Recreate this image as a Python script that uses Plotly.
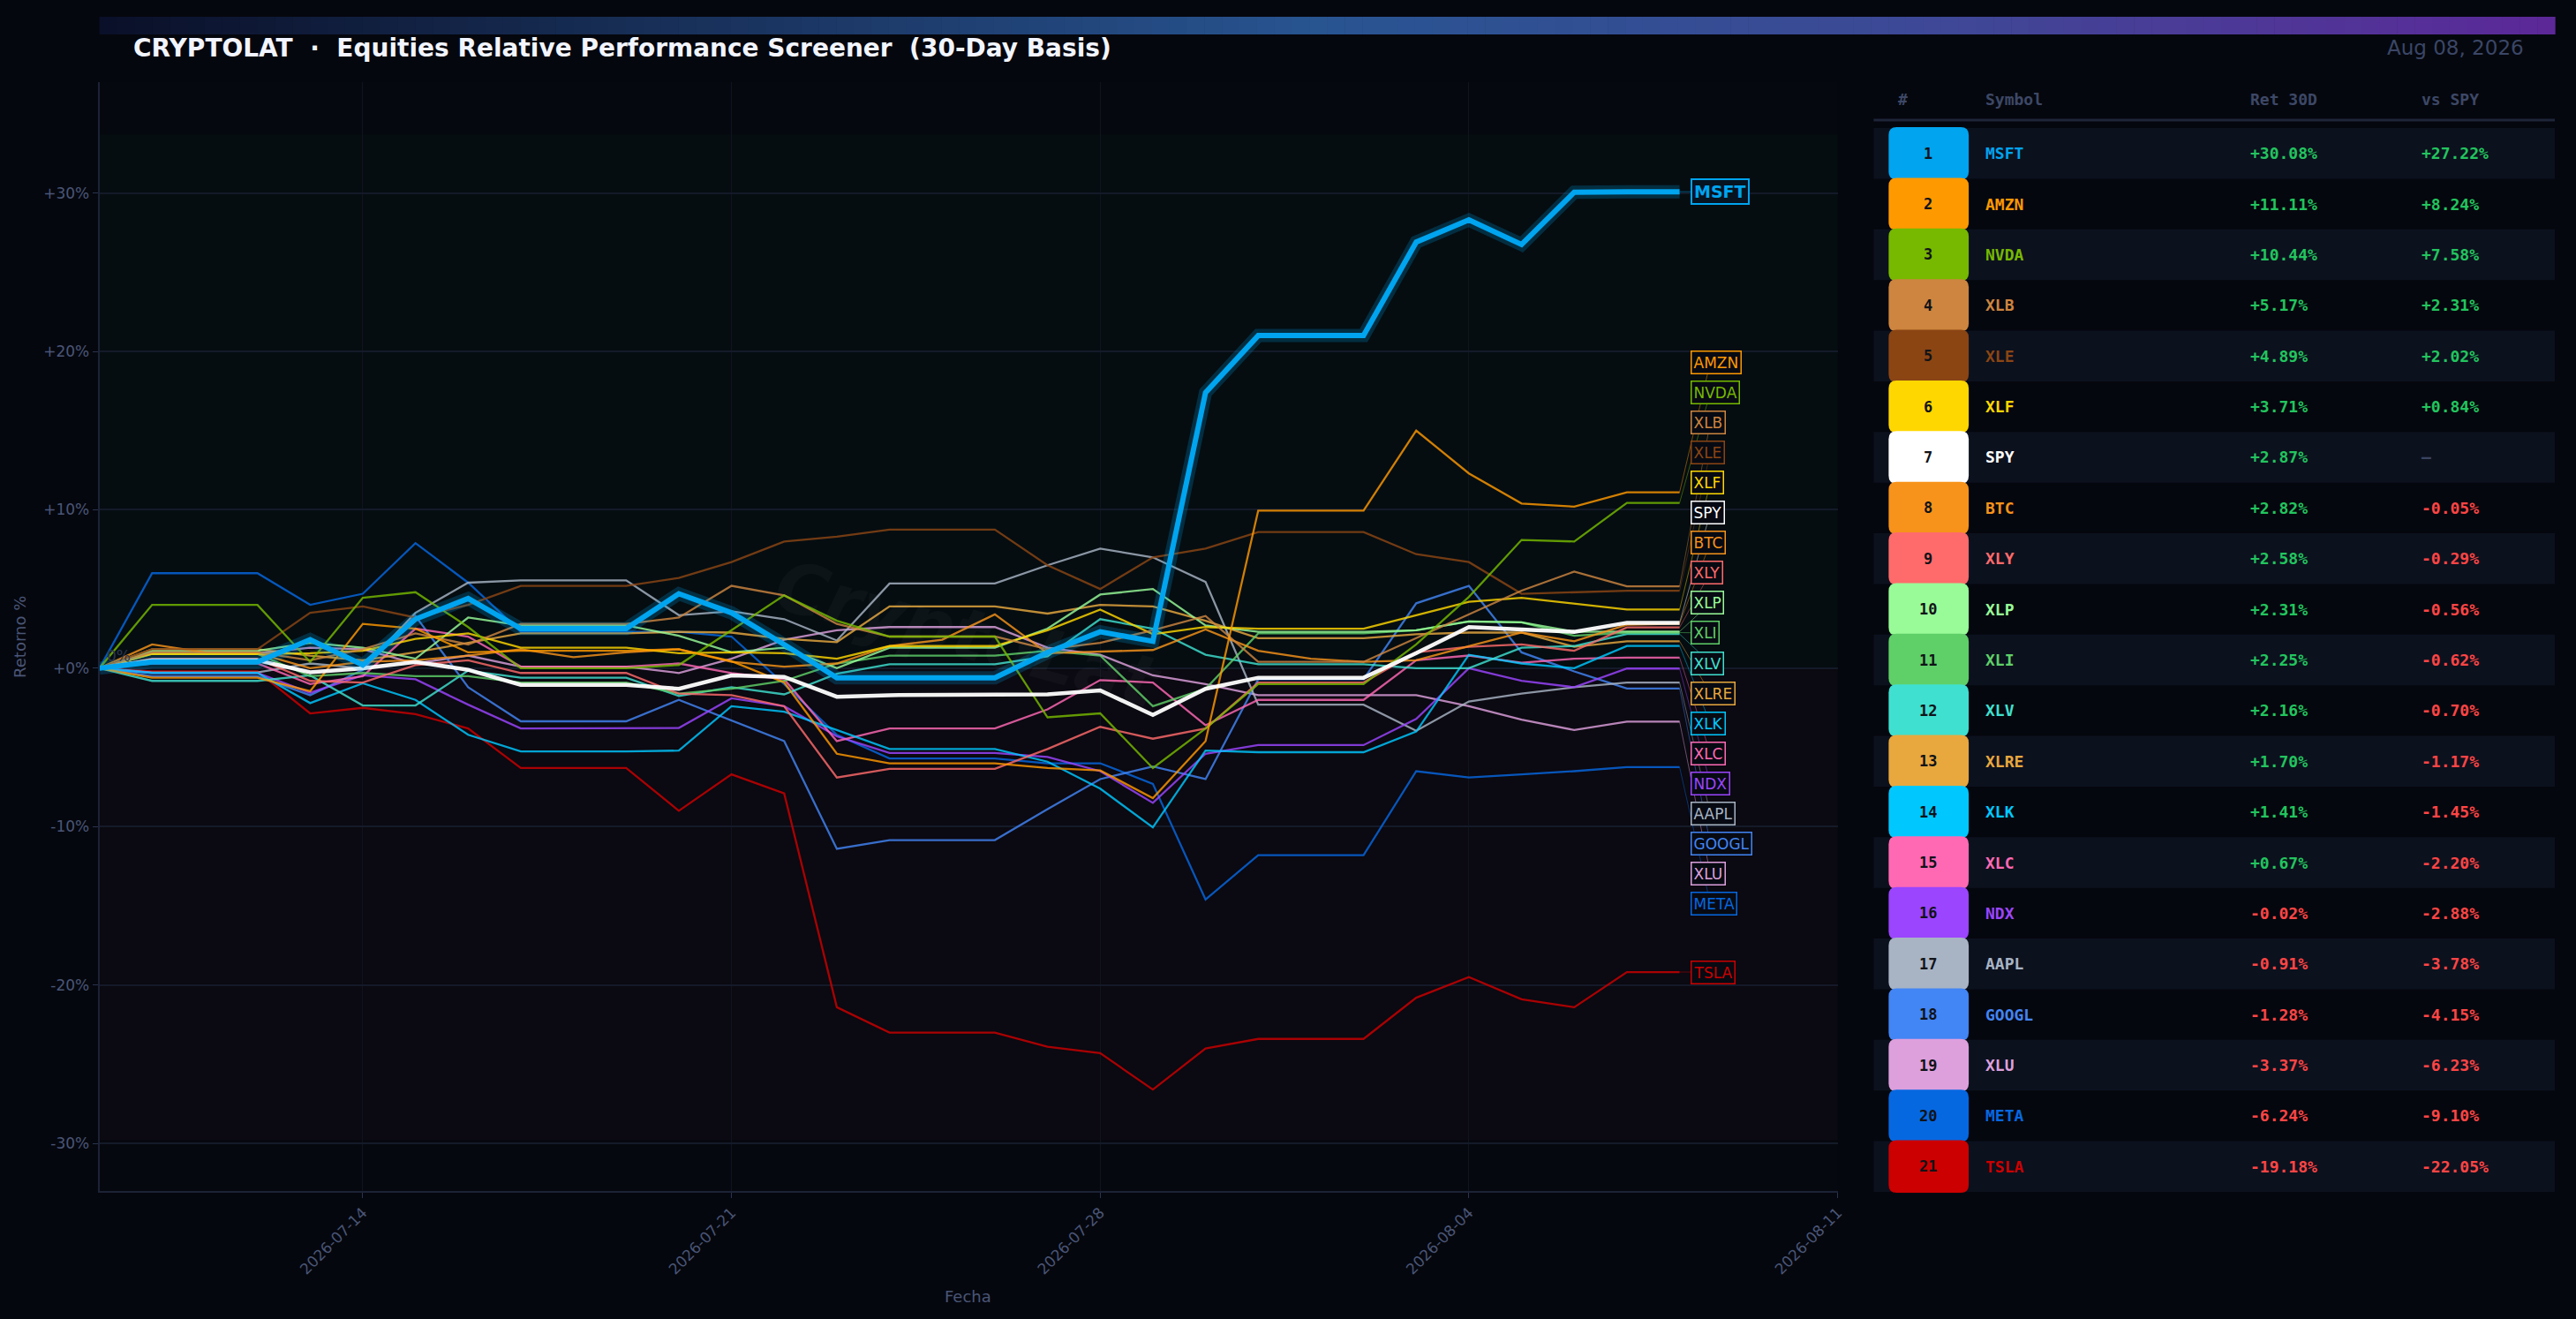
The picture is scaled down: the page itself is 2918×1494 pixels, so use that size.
"""
Equities relative performance screener (30-day basis) - dark dashboard style.
"""
import numpy as np
import pandas as pd
import plotly.graph_objects as go

W, H = 2918, 1494

# Data ---
dates = pd.date_range("2026-07-09", "2026-08-08", freq="D")

symbols = ["MSFT", "AMZN", "NVDA", "XLB", "XLE", "XLF", "SPY", "BTC", "XLY", "XLP", "XLI",
           "XLV", "XLRE", "XLK", "XLC", "NDX", "AAPL", "GOOGL", "XLU", "META", "TSLA"]
colors = ["#00A4EF", "#FF9900", "#76B900", "#CD853F", "#8B4513", "#FFD700", "#FFFFFF",
          "#F7931A", "#FF6B6B", "#98FB98", "#5FD068", "#40E0D0", "#E8A83E", "#00C8FF",
          "#FF69B4", "#9B45FF", "#A8B4C4", "#4285F4", "#DDA0DD", "#0668E1", "#CC0000"]
ret_30d = [30.08, 11.11, 10.44, 5.17, 4.89, 3.71, 2.87, 2.82, 2.58, 2.31, 2.25,
           2.16, 1.70, 1.41, 0.67, -0.02, -0.91, -1.28, -3.37, -6.24, -19.18]
vs_spy = [27.22, 8.24, 7.58, 2.31, 2.02, 0.84, None, -0.05, -0.29, -0.56, -0.62,
          -0.70, -1.17, -1.45, -2.20, -2.88, -3.78, -4.15, -6.23, -9.10, -22.05]

# cumulative return % per day (2026-07-09 .. 2026-08-08)
msft = [0, 0.4, 0.4, 0.4, 1.8, 0.2, 3.1, 4.4, 2.5, 2.5, 2.5, 4.7, 3.5, 1.5, -0.6, -0.6,
        -0.6, -0.6, 1.0, 2.3, 1.7, 17.4, 21.0, 21.0, 21.0, 26.9, 28.3, 26.75, 30.05, 30.08, 30.08]
amzn = [0, -0.6, -0.6, -0.6, -1.45, 2.8, 2.5, 1.0, 1.1, 1.1, 1.1, 1.2, 0.45, -0.9, -5.4, -6.0,
        -6.0, -6.0, -6.3, -6.45, -8.2, -4.6, 9.95, 9.95, 9.95, 15.0, 12.3, 10.4, 10.2, 11.11, 11.11]
nvda = [0, 4.0, 4.0, 4.0, 0.4, 4.45, 4.8, 2.6, 0.0, 0.0, 0.0, 0.2, 2.4, 4.6, 3.0, 2.0,
        2.0, 2.0, -3.1, -2.85, -6.3, -3.8, -1.0, -1.0, -1.0, 1.5, 4.5, 8.1, 8.0, 10.44, 10.44]
xlb = [0, 1.0, 1.0, 1.0, 0.5, 1.2, 2.2, 1.5, 2.8, 2.8, 2.8, 3.2, 5.2, 4.6, 2.8, 2.0,
       2.0, 2.0, 1.2, 1.6, 2.4, 3.3, 0.4, 0.4, 0.4, 1.9, 3.4, 4.9, 6.1, 5.17, 5.17]
xle = [0, 1.2, 1.2, 1.2, 3.5, 3.9, 3.2, 4.0, 5.2, 5.2, 5.2, 5.7, 6.7, 8.0, 8.3, 8.75,
       8.75, 8.75, 6.5, 5.0, 7.0, 7.55, 8.6, 8.6, 8.6, 7.2, 6.7, 4.7, 4.8, 4.89, 4.89]
xlf = [0, 0.9, 0.9, 0.9, 0.95, 1.1, 1.85, 2.2, 1.3, 1.3, 1.3, 0.95, 1.0, 0.95, 0.6, 1.4,
       1.4, 1.4, 2.4, 3.7, 2.15, 2.6, 2.5, 2.5, 2.5, 3.35, 4.2, 4.45, 4.1, 3.71, 3.71]
spy = [0, 0.5, 0.5, 0.5, -0.25, 0.0, 0.4, -0.1, -1.05, -1.05, -1.05, -1.3, -0.45, -0.55, -1.8, -1.7,
       -1.7, -1.7, -1.65, -1.4, -2.95, -1.3, -0.6, -0.6, -0.6, 0.95, 2.6, 2.45, 2.3, 2.87, 2.87]
btc = [0, 1.5, 1.0, 0.95, 0.0, 0.4, 0.5, 0.8, 1.2, 0.7, 1.0, 1.2, 0.4, 0.1, 0.3, 1.4,
       1.8, 3.4, 0.95, 1.05, 1.15, 2.45, 1.1, 0.6, 0.4, 0.5, 1.4, 2.25, 1.7, 2.75, 2.82]
xly = [0, 0.6, 0.6, 0.6, -0.8, -0.9, 0.2, 0.5, -0.3, -0.3, -0.3, -1.6, -1.7, -2.4, -6.9, -6.35,
       -6.35, -6.35, -5.1, -3.7, -4.45, -3.8, -0.9, -0.9, -0.9, 1.0, 1.35, 1.5, 1.1, 2.58, 2.58]
xlp = [0, 1.1, 1.1, 1.1, 1.6, 1.3, 0.6, 3.2, 2.7, 2.7, 2.7, 2.05, 1.0, 1.3, 0.0, 1.3,
       1.3, 1.3, 2.5, 4.65, 5.0, 2.7, 2.3, 2.3, 2.3, 2.4, 2.95, 2.9, 2.3, 2.31, 2.31]
xli = [0, 0.9, 0.9, 0.9, -0.5, -0.3, -0.5, -0.5, -0.9, -0.9, -0.9, -1.6, -1.3, -0.8, 0.3, 0.8,
       0.8, 0.8, 1.1, 0.8, -2.4, -1.3, 2.2, 2.2, 2.2, 2.4, 2.95, 2.9, 2.05, 2.25, 2.25]
xlv = [0, -0.8, -0.8, -0.8, -0.45, -2.35, -2.35, -0.15, -0.6, -0.6, -0.6, -1.75, -1.2, -1.65, -0.35, 0.25,
       0.25, 0.25, 0.75, 3.1, 2.5, 0.85, 0.25, 0.25, 0.25, 0.0, 0.0, 1.3, 1.4, 2.16, 2.16]
xlre = [0, 1.2, 1.2, 1.2, 0.8, 0.5, 1.0, 1.6, 2.2, 2.2, 2.2, 2.3, 2.25, 1.85, 1.65, 3.9,
        3.9, 3.9, 3.45, 4.0, 3.9, 3.0, 1.9, 1.9, 1.9, 2.15, 2.25, 2.25, 1.35, 1.70, 1.70]
xlk = [0, -0.3, -0.3, -0.3, -2.2, -0.95, -2.0, -4.2, -5.25, -5.25, -5.25, -5.2, -2.4, -2.75, -3.9, -5.1,
       -5.1, -5.1, -5.9, -7.6, -10.05, -5.2, -5.3, -5.3, -5.3, -4.0, 0.85, 0.3, 0.0, 1.41, 1.41]
xlc = [0, 0.3, 0.3, 0.3, -1.0, -0.5, 2.5, 2.0, 0.1, 0.1, 0.1, 0.3, -0.3, -0.7, -4.6, -3.8,
       -3.8, -3.8, -2.6, -0.75, -0.9, -3.6, -2.0, -2.0, -2.0, 0.5, 0.8, 0.35, 0.6, 0.67, 0.67]
ndx = [0, -0.3, -0.3, -0.3, -1.55, -0.45, -0.7, -2.3, -3.8, -3.8, -3.8, -3.77, -1.9, -2.4, -4.3, -5.35,
       -5.35, -5.35, -5.6, -6.5, -8.5, -5.4, -4.85, -4.85, -4.85, -3.2, 0.0, -0.8, -1.2, -0.02, -0.02]
aapl = [0, -0.26, -0.26, -0.26, 0.3, 0.0, 3.5, 5.4, 5.55, 5.55, 5.55, 3.35, 3.6, 3.1, 1.75, 5.35,
        5.35, 5.35, 6.5, 7.55, 7.0, 5.45, -2.3, -2.3, -2.3, -3.95, -2.1, -1.6, -1.2, -0.91, -0.91]
googl = [0, -0.5, -0.5, -0.5, -1.7, -0.1, 3.3, -1.2, -3.35, -3.35, -3.35, -2.0, -3.3, -4.6, -11.4, -10.85,
         -10.85, -10.85, -8.9, -7.0, -6.2, -7.0, -0.7, -0.7, -0.7, 4.1, 5.2, 1.0, -0.2, -1.28, -1.28]
xlu = [0, 0.95, 0.95, 0.95, 1.3, 1.2, 0.3, 0.8, 0.1, 0.1, 0.1, -0.3, 0.6, 1.8, 2.4, 2.6,
       2.6, 2.6, 1.3, 0.85, -0.45, -1.0, -1.7, -1.7, -1.7, -1.7, -2.4, -3.25, -3.9, -3.37, -3.37]
meta = [0, 6.0, 6.0, 6.0, 4.0, 4.7, 7.9, 5.4, 2.3, 2.3, 2.3, 2.3, 2.0, -1.0, -4.2, -5.7,
        -5.7, -5.7, -6.0, -6.0, -7.3, -14.6, -11.8, -11.8, -11.8, -6.5, -6.9, -6.7, -6.5, -6.24, -6.24]
tsla = [0, -0.2, -0.2, -0.2, -2.85, -2.5, -2.9, -3.8, -6.3, -6.3, -6.3, -9.0, -6.7, -7.9, -21.4, -23.0,
        -23.0, -23.0, -23.9, -24.3, -26.6, -24.0, -23.4, -23.4, -23.4, -20.8, -19.5, -20.9, -21.4, -19.18, -19.18]

series = dict(zip(symbols, [msft, amzn, nvda, xlb, xle, xlf, spy, btc, xly, xlp, xli,
                            xlv, xlre, xlk, xlc, ndx, aapl, googl, xlu, meta, tsla]))

# Helpers ---
BG = "#05070e"
MUTED = "#4a5677"


def px(x):
    return x / W


def py(y):
    return 1 - y / H


def rgba(hex_color, a):
    h = hex_color.lstrip("#")
    return f"rgba({int(h[0:2], 16)},{int(h[2:4], 16)},{int(h[4:6], 16)},{a})"


def mix(c0, c1, t):
    return tuple(int(round(a + (b - a) * t)) for a, b in zip(c0, c1))


def rounded_rect(x0, y0, x1, y1, r):
    """Rounded rectangle path in paper coords, inputs in figure pixels."""
    rx, ry = r / W, r / H
    X0, X1, Y0, Y1 = px(x0), px(x1), py(y1), py(y0)
    return (f"M {X0 + rx},{Y0} L {X1 - rx},{Y0} Q {X1},{Y0} {X1},{Y0 + ry} "
            f"L {X1},{Y1 - ry} Q {X1},{Y1} {X1 - rx},{Y1} L {X0 + rx},{Y1} "
            f"Q {X0},{Y1} {X0},{Y1 - ry} L {X0},{Y0 + ry} Q {X0},{Y0} {X0 + rx},{Y0} Z")


def spread_labels(values, gap):
    """Push end labels apart (min gap), keeping each overlapping group centred on its mean."""
    order = sorted(range(len(values)), key=lambda i: -values[i])
    clusters = []
    for i in order:
        clusters.append([i])
        while len(clusters) > 1:
            a, b = clusters[-2], clusters[-1]
            ca = np.mean([values[k] for k in a])
            cb = np.mean([values[k] for k in b])
            if (ca - gap * (len(a) - 1) / 2) - (cb + gap * (len(b) - 1) / 2) < gap:
                clusters[-2:] = [a + b]
            else:
                break
    pos = {}
    for c in clusters:
        m = np.mean([values[k] for k in c])
        for j, k in enumerate(c):
            pos[k] = m + gap * ((len(c) - 1) / 2 - j)
    return [pos[i] for i in range(len(values))]


# Plot ---
fig = go.Figure()

all_vals = np.concatenate([np.array(v, dtype=float) for v in series.values()])
band_top, band_bot = all_vals.max() * 1.12, all_vals.min() * 1.12

# draw order: everything else, then SPY, then MSFT on top
draw_order = [s for s in symbols[::-1] if s not in ("SPY", "MSFT")] + ["SPY", "MSFT"]
col = dict(zip(symbols, colors))

# note: translucency via rgba colours (trace opacity makes Chrome composite odd tiles)
for s in draw_order:
    if s == "MSFT":
        fig.add_trace(go.Scatter(x=dates, y=series[s], mode="lines", hoverinfo="skip",
                                 line=dict(color="rgba(0,164,239,0.22)", width=15),
                                 showlegend=False))
        line = dict(color=col[s], width=6)
    elif s == "SPY":
        line = dict(color=rgba(col[s], 0.95), width=4.5)
    else:
        line = dict(color=rgba(col[s], 0.82), width=2.3)
    fig.add_trace(go.Scatter(x=dates, y=series[s], mode="lines", name=s,
                             line=line, showlegend=False))

# end labels with connectors
label_y = spread_labels(ret_30d, 1.9)
last = dates[-1]
conn_x = last + pd.Timedelta(hours=14)
annotations = []
for i, s in enumerate(symbols):
    end_val = series[s][-1]
    fig.add_trace(go.Scatter(x=[last, conn_x], y=[end_val, label_y[i]], mode="lines",
                             line=dict(color=rgba(col[s], 0.45), width=1),
                             hoverinfo="skip", showlegend=False))
    bold = s == "MSFT"
    annotations.append(dict(
        x=last, y=label_y[i], xref="x", yref="y", xanchor="left", yanchor="middle",
        xshift=12, showarrow=False,
        text=f"<b>{s}</b>" if bold else s,
        font=dict(family="DejaVu Sans", size=19 if bold else 17, color=col[s]),
        bgcolor="#061320" if bold else "#070a12", bordercolor=col[s],
        borderwidth=2 if bold else 1.5, borderpad=2))

# background bands (pre-blended solid tints) + dashed zero line
shapes = [
    dict(type="rect", xref="x domain", yref="y", x0=0, x1=1, y0=0, y1=band_top,
         fillcolor="#050d11", line_width=0, layer="below"),
    dict(type="rect", xref="x domain", yref="y", x0=0, x1=1, y0=band_bot, y1=0,
         fillcolor="#0b0911", line_width=0, layer="below"),
    dict(type="line", xref="x domain", yref="y", x0=0, x1=1, y0=0, y1=0,
         line=dict(color="#3a4560", width=2, dash="dash"), layer="below"),
]

# gradient header bar
stops = [(0.0, (10, 16, 40)), (0.5, (40, 84, 145)), (0.75, (62, 72, 150)), (1.0, (92, 40, 152))]
n_seg = 140
bx0, bx1 = 113, 2903
for k in range(n_seg):
    t = (k + 0.5) / n_seg
    for (t0, c0), (t1, c1) in zip(stops[:-1], stops[1:]):
        if t0 <= t <= t1:
            c = mix(c0, c1, (t - t0) / (t1 - t0))
            break
    xa = bx0 + (bx1 - bx0) * k / n_seg
    xb = bx0 + (bx1 - bx0) * (k + 1) / n_seg + 0.6
    shapes.append(dict(type="rect", xref="paper", yref="paper", x0=px(xa), x1=px(xb),
                       y0=py(39), y1=py(19), fillcolor=f"rgb{c}", line_width=0))

# title, date, axis titles, baseline tag, watermark
nb = "\u00a0"
annotations += [
    dict(x=px(149), y=py(54), xref="paper", yref="paper", xanchor="left", yanchor="middle",
         showarrow=False, font=dict(family="DejaVu Sans", size=28, color="#f2f5ff"),
         text=f"<b>CRYPTOLAT{nb}{nb}·{nb}{nb}Equities Relative Performance Screener{nb}{nb}(30-Day Basis)</b>"),
    dict(x=px(2870), y=py(54), xref="paper", yref="paper", xanchor="right", yanchor="middle",
         showarrow=False, font=dict(family="DejaVu Sans", size=23, color="#3a4666"),
         text="Aug 08, 2026"),
    dict(x=px(1100), y=py(1468), xref="paper", yref="paper", xanchor="center", yanchor="middle",
         showarrow=False, font=dict(family="DejaVu Sans", size=18, color=MUTED), text="Fecha"),
    dict(x=px(22), y=py(721), xref="paper", yref="paper", xanchor="center", yanchor="middle",
         textangle=-90, showarrow=False,
         font=dict(family="DejaVu Sans", size=18, color=MUTED), text="Retorno %"),
    dict(x=dates[0], y=0, xref="x", yref="y", xanchor="left", yanchor="bottom",
         xshift=6, yshift=2, showarrow=False,
         font=dict(family="DejaVu Sans", size=17, color="#2c3550"), text="0%"),
    dict(x=px(1100), y=py(718), xref="paper", yref="paper", xanchor="center", yanchor="middle",
         textangle=15, showarrow=False,
         font=dict(family="DejaVu Sans", size=80, color="rgba(255,255,255,0.03)"),
         text="<b><i>CryptoLat</i></b>"),
]

# ranking table on the right
tx0, tx1 = 2129, 2903
row_top, row_h = 145, (1350 - 145) / 21
mono = "DejaVu Sans Mono"
hdr = dict(family=mono, size=18, color="#3d4866")
for x, t in [(2155, "#"), (2254, "Symbol"), (2555, "Ret 30D"), (2749, "vs SPY")]:
    annotations.append(dict(x=px(x), y=py(112), xref="paper", yref="paper", xanchor="left",
                            yanchor="middle", showarrow=False, font=hdr, text=f"<b>{t}</b>"))
shapes.append(dict(type="line", xref="paper", yref="paper", x0=px(tx0), x1=px(tx1),
                   y0=py(136), y1=py(136), line=dict(color="#1e2538", width=3)))

for i, s in enumerate(symbols):
    y0 = row_top + i * row_h
    yc = y0 + row_h / 2
    if i % 2 == 0:
        shapes.append(dict(type="rect", xref="paper", yref="paper", x0=px(tx0), x1=px(tx1),
                           y0=py(y0 + row_h), y1=py(y0), fillcolor="#0c111e", line_width=0))
    shapes.append(dict(type="path", xref="paper", yref="paper",
                       path=rounded_rect(2146, y0 - 1, 2237, y0 + row_h + 1, 9),
                       fillcolor=col[s], line_width=0))
    annotations.append(dict(x=px(2191), y=py(yc), xref="paper", yref="paper", xanchor="center",
                            yanchor="middle", showarrow=False, text=f"<b>{i + 1}</b>",
                            font=dict(family=mono, size=17, color="#111318")))
    annotations.append(dict(x=px(2254), y=py(yc), xref="paper", yref="paper", xanchor="left",
                            yanchor="middle", showarrow=False, text=f"<b>{s}</b>",
                            font=dict(family=mono, size=18, color=col[s])))
    r = ret_30d[i]
    annotations.append(dict(x=px(2555), y=py(yc), xref="paper", yref="paper", xanchor="left",
                            yanchor="middle", showarrow=False, text=f"<b>{r:+.2f}%</b>",
                            font=dict(family=mono, size=18,
                                      color="#22c55e" if r >= 0 else "#ff4545")))
    v = vs_spy[i]
    if v is None:
        txt, c = "<b>—</b>", "#3a4560"
    else:
        txt, c = f"<b>{v:+.2f}%</b>", "#22c55e" if v >= 0 else "#ff4545"
    annotations.append(dict(x=px(2749), y=py(yc), xref="paper", yref="paper", xanchor="left",
                            yanchor="middle", showarrow=False, text=txt,
                            font=dict(family=mono, size=18, color=c)))

# Layout ---
xticks = ["2026-07-14", "2026-07-21", "2026-07-28", "2026-08-04", "2026-08-11"]
yticks = [-30, -20, -10, 0, 10, 20, 30]
yticktext = ["-30%", "-20%", "-10%", "+0%", "+10%", "+20%", "+30%"]

fig.update_xaxes(
    type="date", range=["2026-07-09", "2026-08-11"],
    domain=[px(113), px(2088)],
    tickvals=xticks, ticktext=xticks, tickangle=-45,
    tickfont=dict(family="DejaVu Sans", size=17, color=MUTED),
    showgrid=True, gridcolor="#0f1420", gridwidth=1,
    showline=True, linecolor="#1c2336", linewidth=2,
    ticks="outside", ticklen=6, tickcolor="#2a3350",
    zeroline=False,
)
fig.update_yaxes(
    range=[-33, 37],
    domain=[py(1349), py(93)],
    tickvals=yticks, ticktext=yticktext,
    tickfont=dict(family="DejaVu Sans", size=17, color=MUTED),
    showgrid=True, gridcolor="#141a29", gridwidth=1.5,
    showline=True, linecolor="#1c2336", linewidth=2,
    ticks="outside", ticklen=6, tickcolor="#2a3350",
    zeroline=False,
)
fig.update_layout(
    width=W, height=H,
    margin=dict(l=0, r=0, t=0, b=0),
    paper_bgcolor=BG, plot_bgcolor="#06080f",
    font=dict(family="DejaVu Sans", color=MUTED),
    showlegend=False,
    shapes=shapes,
    annotations=annotations,
)

# page has a default body margin; remove it so the figure fills the window
fig.write_html("out.html",
               config={"displayModeBar": False},
               post_script="document.body.style.margin='0';"
                           "document.body.style.background='#05070e';"
                           "document.body.style.overflow='hidden';")
